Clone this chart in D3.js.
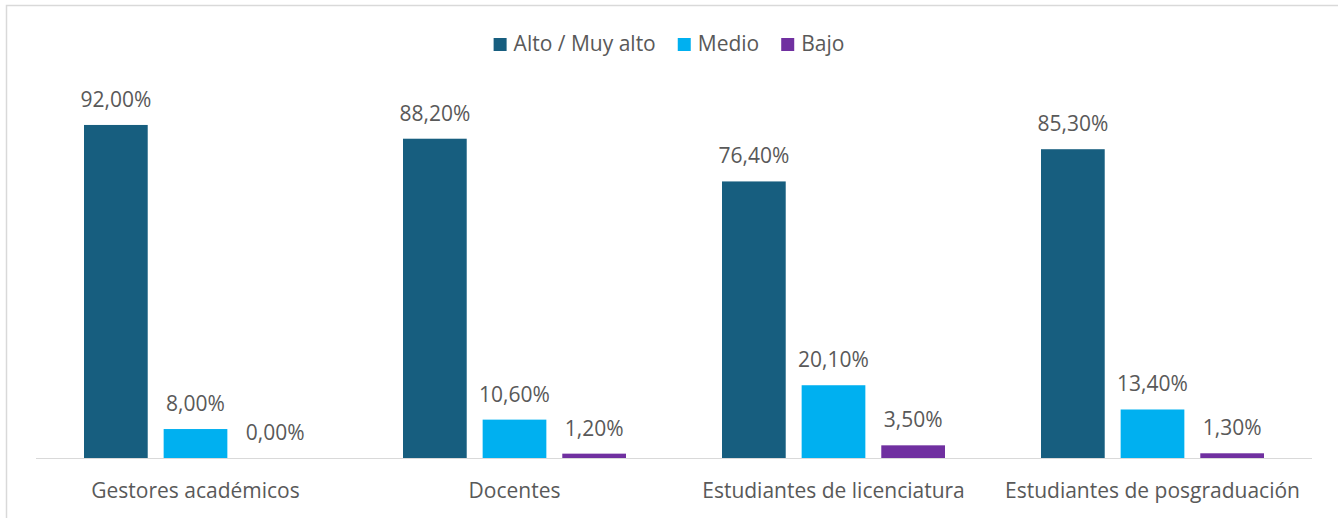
<!DOCTYPE html>
<html>
<head>
<meta charset="utf-8">
<script src="https://cdn.jsdelivr.net/npm/d3@7"></script>
<style>
  body { margin: 0; background: #fff; }
  text { font-family: 'Open Sans', sans-serif; fill: #595959; }
</style>
</head>
<body>
<svg></svg>
<script>
// datos del gráfico
const categories = ['Gestores académicos', 'Docentes', 'Estudiantes de licenciatura', 'Estudiantes de posgraduación'];
const seriesNames = ['Alto / Muy alto', 'Medio', 'Bajo'];
const altoValues = [92.0, 88.2, 76.4, 85.3];
const medioValues = [8.0, 10.6, 20.1, 13.4];
const bajoValues = [0.0, 1.2, 3.5, 1.3];
const colors = ['#175e7f', '#00b0f0', '#7030a0'];

const width = 1338, height = 518;
const svg = d3.select('svg').attr('width', width).attr('height', height);

// marco del gráfico
svg.append('rect')
  .attr('x', 6.5).attr('y', 5.5)
  .attr('width', width + 20).attr('height', height + 20)
  .attr('fill', 'none').attr('stroke', '#d9d9d9').attr('stroke-width', 1.5);

const baseY = 458;
const x0 = d3.scaleBand().domain(categories).range([36, 1312]);
const x1 = d3.scaleBand().domain(seriesNames).range([48, 271]).paddingInner(0.2);
const y = d3.scaleLinear().domain([0, 100]).range([baseY, baseY - 362]);

const rows = categories.map((c, i) => ({
  cat: c,
  vals: [altoValues[i], medioValues[i], bajoValues[i]]
}));

const groups = svg.selectAll('g.grp')
  .data(rows)
  .enter()
  .append('g')
  .attr('class', 'grp')
  .attr('transform', (d) => `translate(${x0(d.cat)},0)`);

const cells = groups.selectAll('g.cell')
  .data((d) => d.vals.map((v, j) => ({ name: seriesNames[j], v: v, j: j })))
  .enter()
  .append('g');

cells.append('rect')
  .attr('x', (d) => x1(d.name))
  .attr('y', (d) => y(d.v))
  .attr('width', x1.bandwidth())
  .attr('height', (d) => baseY - y(d.v))
  .attr('fill', (d) => colors[d.j]);

cells.append('text')
  .attr('x', (d) => x1(d.name) + x1.bandwidth() / 2)
  .attr('y', (d) => y(d.v) - 18)
  .attr('text-anchor', 'middle')
  .attr('font-size', '21px')
  .text((d) => d3.format('.2f')(d.v).replace('.', ',') + '%');

// eje x
svg.append('line')
  .attr('x1', 36).attr('x2', 1312)
  .attr('y1', baseY + 0.5).attr('y2', baseY + 0.5)
  .attr('stroke', '#d9d9d9').attr('stroke-width', 1);

svg.selectAll('text.cat')
  .data(categories)
  .enter()
  .append('text')
  .attr('class', 'cat')
  .attr('x', (d) => x0(d) + x0.bandwidth() / 2)
  .attr('y', 498)
  .attr('text-anchor', 'middle')
  .attr('font-size', '21px')
  .text((d) => d);

// leyenda
const legend = svg.append('g');
let lx = 0;
seriesNames.forEach((name, i) => {
  const item = legend.append('g').attr('transform', `translate(${lx},0)`);
  item.append('rect')
    .attr('x', 0).attr('y', 38)
    .attr('width', 13).attr('height', 13)
    .attr('fill', colors[i]);
  const t = item.append('text')
    .attr('x', 20).attr('y', 51)
    .attr('font-size', '21px')
    .text(name);
  lx += 20 + t.node().getComputedTextLength() + 22;
});
const lw = lx - 22;
legend.attr('transform', `translate(${(width - lw) / 2},0)`);
</script>
</body>
</html>
